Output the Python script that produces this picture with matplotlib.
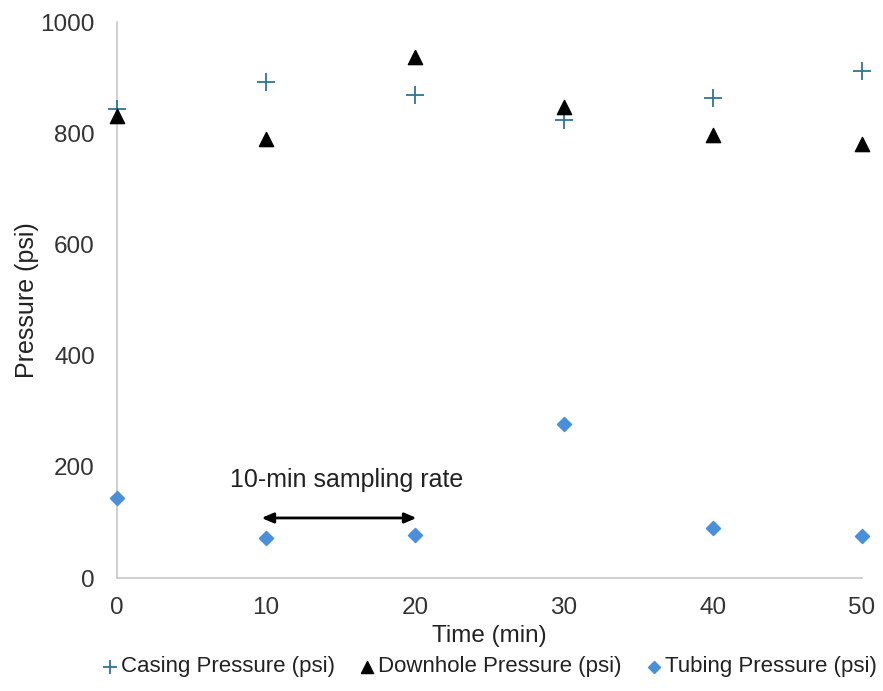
import matplotlib
matplotlib.use("Agg")
import matplotlib.pyplot as plt

plt.rcParams['font.family'] = ['Liberation Sans', 'DejaVu Sans']

# data
time_min = [0, 10, 20, 30, 40, 50]
casing = [843, 892, 869, 824, 863, 912]
downhole = [831, 790, 937, 847, 797, 781]
tubing = [144, 72, 77, 277, 90, 75]

fig = plt.figure(figsize=(8.83, 6.91), dpi=100)
ax = fig.add_axes([0.1325, 0.1635, 0.8437, 0.8046])

ax.scatter(time_min, casing, marker='+', s=160, color='#2F7497', linewidths=1.3,
           label='Casing Pressure (psi)', zorder=3, clip_on=False)
ax.scatter(time_min, downhole, marker='^', s=105, color='black',
           label='Downhole Pressure (psi)', zorder=3, clip_on=False)
ax.scatter(time_min, tubing, marker='D', s=52, color='#4A8FDA',
           label='Tubing Pressure (psi)', zorder=3, clip_on=False)

# sampling-rate annotation
ax.annotate('', xy=(9.7, 108), xytext=(20.1, 108),
            arrowprops=dict(arrowstyle='<|-|>,head_length=0.7,head_width=0.3',
                            color='black', lw=2, shrinkA=0, shrinkB=0))
ax.text(15.4, 176, '10-min sampling rate', ha='center', va='center',
        fontsize=18, color='#222222')

ax.set_xlim(0, 50)
ax.set_ylim(0, 1000)
ax.set_xticks(time_min)
ax.set_yticks([0, 200, 400, 600, 800, 1000])
ax.tick_params(length=0, labelsize=17.5, colors='#333333')
ax.tick_params(axis='x', pad=14)
ax.tick_params(axis='y', pad=16)
for side in ['top', 'right']:
    ax.spines[side].set_visible(False)
for side in ['left', 'bottom']:
    ax.spines[side].set_color('#C8C8C8')
    ax.spines[side].set_linewidth(1.2)

ax.set_xlabel('Time (min)', fontsize=17.5, labelpad=4, color='#222222')
ax.set_ylabel('Pressure (psi)', fontsize=18, color='#222222')
ax.yaxis.set_label_coords(-0.105, 0.5)

ax.legend(loc='center', bbox_to_anchor=(0.5, -0.16), ncol=3, frameon=False,
          fontsize=16, handlelength=0.7, handletextpad=0.15, columnspacing=1.1,
          borderaxespad=0, labelcolor='#222222', markerscale=0.85)

fig.savefig('out.png', dpi=100)
